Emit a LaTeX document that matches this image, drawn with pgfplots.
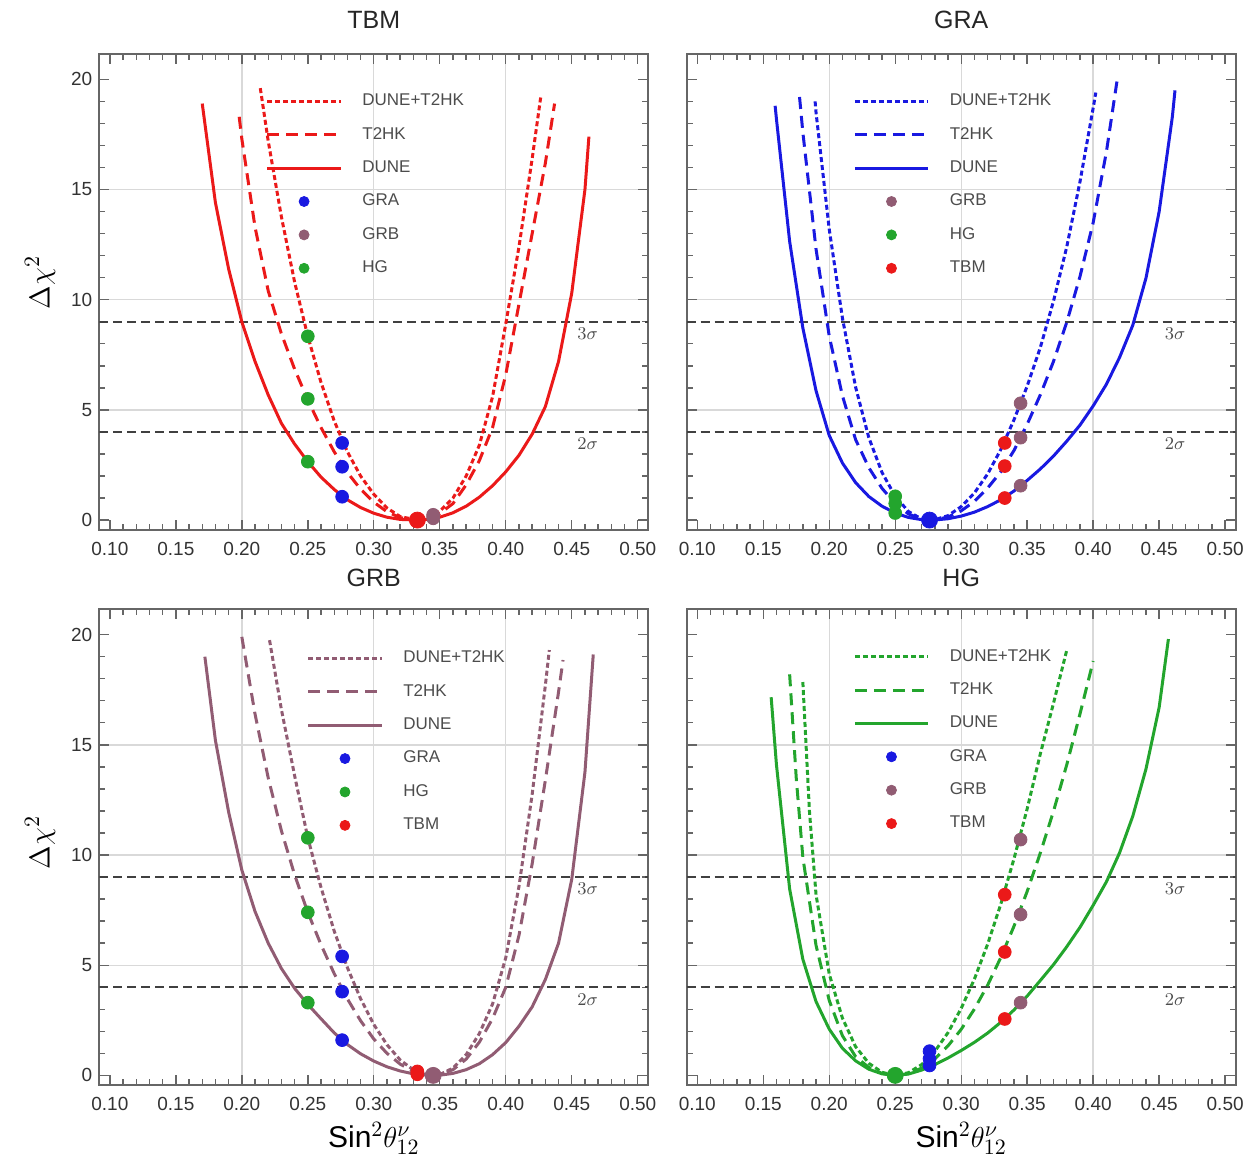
\documentclass[border=0pt]{standalone}
\usepackage{fontspec}
\setmainfont{Liberation Sans}
\usepackage{pgfplots}
\pgfplotsset{compat=1.18}

\definecolor{cTBM}{RGB}{235,25,25}
\definecolor{cGRA}{RGB}{25,25,225}
\definecolor{cGRB}{RGB}{145,92,115}
\definecolor{cHG}{RGB}{35,165,45}

\pgfplotsset{
  panel/.style={
    scale only axis, width=274.5pt, height=238pt,
    xmin=0.092, xmax=0.508, ymin=-0.45, ymax=21.15,
    xtick={0.10,0.15,0.20,0.25,0.30,0.35,0.40,0.45,0.50},
    minor x tick num=4,
    ytick={0,5,10,15,20}, minor y tick num=4,
    extra x ticks={0.2,0.3,0.4}, extra x tick labels={},
    extra y ticks={5,10,15}, extra y tick labels={},
    extra tick style={grid=major, major grid style={gray!30, line width=0.7pt}},
    tick align=inside,
    axis line style={black!60, line width=0.9pt},
    every tick/.style={black!60, line width=0.7pt},
    major tick length=5pt, minor tick length=3pt,
    /pgf/number format/assume math mode=true,
    x tick label style={/pgf/number format/fixed, /pgf/number format/fixed zerofill,
      /pgf/number format/precision=2, yshift=-2.5pt},
    tick label style={font=\fontsize{9.5}{10}\selectfont, text=black!80},
    every axis title/.style={font=\fontsize{12.5}{14}\selectfont, text=black!85,
      at={(axis description cs:0.5,1)}, anchor=base, yshift=12.75pt},
    every axis y label/.style={font=\fontsize{15}{18}\selectfont,
      at={(axis description cs:0,0.52)}, rotate=90, anchor=center, yshift=29.6pt},
    every axis x label/.style={font=\fontsize{15}{18}\selectfont,
      at={(axis description cs:0.5,0)}, anchor=center, yshift=-26.5pt},
    legend style={draw=none, fill=none, inner sep=0pt, column sep=10pt, row sep=0pt,
      font=\fontsize{8.5}{9}\selectfont, text=black!70,
      nodes={inner sep=0pt, minimum height=16.7pt}},
    legend cell align=left,
  },
  lineimg/.style={legend image code/.code={\draw[##1] (0pt,0pt) -- (36.7pt,0pt);}},
  markimg/.style={legend image code/.code={\draw[##1, mark size=2.5pt] plot coordinates {(18.3pt,0pt)};}},
  dune/.style={lineimg, line width=1.5pt},
  t2hk/.style={lineimg, line width=1.5pt, dash pattern=on 6pt off 3.5pt},
  comb/.style={lineimg, line width=1.5pt, dash pattern=on 2.5pt off 1.5pt},
  pts/.style={markimg, only marks, mark=*, mark size=3.2pt, color=#1},
  own/.style={only marks, mark=*, mark size=4pt, color=#1, forget plot},
  sigline/.style={black!75, line width=1.2pt, dash pattern=on 4.5pt off 2.5pt, forget plot},
}

\newcommand{\siglines}{%
  \addplot[sigline] coordinates {(0.092,9) (0.508,9)};
  \addplot[sigline] coordinates {(0.092,4) (0.508,4)};
  \node[font=\fontsize{9.5}{10}\selectfont, text=black!70] at (axis cs:0.462,8.45) {$3\sigma$};
  \node[font=\fontsize{9.5}{10}\selectfont, text=black!70] at (axis cs:0.462,3.45) {$2\sigma$};
}

\begin{document}
\begin{tikzpicture}
\useasboundingbox (-49.65pt,27pt) rectangle (574.85pt,-554pt);

% ---------------- TBM ----------------
\begin{axis}[panel, at={(0pt,0pt)}, anchor=north west, title={TBM}, ylabel={$\Delta\chi^2$},
  legend style={at={(axis cs:0.218,19.78)}, anchor=north west}]
\siglines
\addplot[comb, cTBM] coordinates {(0.214,19.6) (0.22,17.2) (0.23,13.76) (0.24,10.8) (0.25,8.34) (0.26,6.25) (0.27,4.5) (0.28,3.1) (0.29,2.0) (0.30,1.17) (0.31,0.55) (0.32,0.16) (0.333,0) (0.34,0.08) (0.35,0.4) (0.36,1.0) (0.37,2.0) (0.38,3.4) (0.39,5.6) (0.40,8.9) (0.41,12.4) (0.42,16.4) (0.4265,19.2)};
\addlegendentry{DUNE+T2HK}
\addplot[t2hk, cTBM] coordinates {(0.198,18.3) (0.20,17.3) (0.21,13.3) (0.22,10.4) (0.23,8.45) (0.24,6.85) (0.25,5.45) (0.26,4.2) (0.27,3.1) (0.28,2.16) (0.29,1.40) (0.30,0.81) (0.31,0.38) (0.32,0.11) (0.333,0) (0.34,0.06) (0.35,0.3) (0.36,0.75) (0.37,1.6) (0.38,2.7) (0.39,4.2) (0.40,6.6) (0.41,9.8) (0.42,13.0) (0.43,16.2) (0.437,18.9)};
\addlegendentry{T2HK}
\addplot[dune, cTBM] coordinates {(0.17,18.9) (0.18,14.4) (0.19,11.4) (0.20,9.0) (0.21,7.2) (0.22,5.68) (0.23,4.39) (0.24,3.45) (0.25,2.65) (0.26,1.95) (0.27,1.39) (0.28,0.92) (0.29,0.57) (0.30,0.31) (0.31,0.13) (0.32,0.03) (0.333,0) (0.34,0.03) (0.35,0.13) (0.36,0.33) (0.37,0.63) (0.38,1.04) (0.39,1.56) (0.40,2.19) (0.41,2.94) (0.42,3.9) (0.43,5.15) (0.44,7.2) (0.45,10.3) (0.46,15.0) (0.463,17.4)};
\addlegendentry{DUNE}
\addplot[pts=cGRA] coordinates {(0.276,1.06) (0.276,2.42) (0.276,3.5)};
\addlegendentry{GRA}
\addplot[pts=cGRB] coordinates {(0.345,0.08) (0.345,0.18) (0.345,0.24)};
\addlegendentry{GRB}
\addplot[pts=cHG] coordinates {(0.25,2.65) (0.25,5.5) (0.25,8.34)};
\addlegendentry{HG}
\addplot[own=cTBM] coordinates {(0.333,0)};
\end{axis}

% ---------------- GRA ----------------
\begin{axis}[panel, at={(293.7pt,0pt)}, anchor=north west, title={GRA}, yticklabels={},
  legend style={at={(axis cs:0.218,19.78)}, anchor=north west}]
\siglines
\addplot[comb, cGRA] coordinates {(0.1893,19.0) (0.19,18.5) (0.20,13.2) (0.21,9.17) (0.22,6.03) (0.23,3.74) (0.24,2.16) (0.25,1.08) (0.26,0.39) (0.27,0.05) (0.276,0) (0.28,0.02) (0.29,0.2) (0.30,0.61) (0.31,1.23) (0.32,2.09) (0.33,3.2) (0.34,4.55) (0.35,6.08) (0.36,7.84) (0.37,9.95) (0.38,12.4) (0.39,15.35) (0.40,18.7) (0.402,19.4)};
\addlegendentry{DUNE+T2HK}
\addplot[t2hk, cGRA] coordinates {(0.1775,19.2) (0.18,17.6) (0.19,12.3) (0.20,8.35) (0.21,5.64) (0.22,3.65) (0.23,2.38) (0.24,1.44) (0.25,0.75) (0.26,0.28) (0.27,0.04) (0.276,0) (0.28,0.01) (0.29,0.14) (0.30,0.42) (0.31,0.85) (0.32,1.45) (0.33,2.19) (0.34,3.16) (0.35,4.35) (0.36,5.69) (0.37,7.21) (0.38,8.98) (0.39,11.05) (0.40,13.5) (0.41,16.7) (0.418,19.9)};
\addlegendentry{T2HK}
\addplot[dune, cGRA] coordinates {(0.159,18.8) (0.16,18.2) (0.17,12.65) (0.18,8.72) (0.19,5.87) (0.20,3.84) (0.21,2.59) (0.22,1.70) (0.23,1.07) (0.24,0.63) (0.25,0.32) (0.26,0.12) (0.27,0.02) (0.276,0) (0.28,0.005) (0.29,0.06) (0.30,0.18) (0.31,0.36) (0.32,0.61) (0.33,0.92) (0.34,1.32) (0.35,1.8) (0.36,2.32) (0.37,2.91) (0.38,3.58) (0.39,4.31) (0.40,5.18) (0.41,6.16) (0.42,7.38) (0.43,8.84) (0.44,10.98) (0.45,14.0) (0.46,18.3) (0.462,19.5)};
\addlegendentry{DUNE}
\addplot[pts=cGRB] coordinates {(0.345,1.56) (0.345,3.74) (0.345,5.3)};
\addlegendentry{GRB}
\addplot[pts=cHG] coordinates {(0.25,0.32) (0.25,0.75) (0.25,1.08)};
\addlegendentry{HG}
\addplot[pts=cTBM] coordinates {(0.333,1.0) (0.333,2.45) (0.333,3.5)};
\addlegendentry{TBM}
\addplot[own=cGRA] coordinates {(0.276,0)};
\end{axis}

% ---------------- GRB ----------------
\begin{axis}[panel, at={(0pt,-277.65pt)}, anchor=north west, title={GRB}, ylabel={$\Delta\chi^2$},
  xlabel={Sin$^2\theta^{\nu}_{12}$}, every axis title/.append style={yshift=-1.45pt},
  every axis y label/.append style={at={(axis description cs:0,0.51)}},
  legend style={at={(axis cs:0.249,19.7)}, anchor=north west}]
\siglines
\addplot[comb, cGRB] coordinates {(0.221,19.75) (0.23,16.6) (0.24,13.6) (0.25,10.78) (0.26,8.53) (0.27,6.55) (0.28,4.89) (0.29,3.48) (0.30,2.31) (0.31,1.39) (0.32,0.70) (0.33,0.25) (0.34,0.03) (0.345,0) (0.35,0.04) (0.36,0.33) (0.37,0.94) (0.38,1.9) (0.39,3.24) (0.40,5.34) (0.41,8.57) (0.42,12.75) (0.43,17.7) (0.433,19.3)};
\addlegendentry{DUNE+T2HK}
\addplot[t2hk, cGRB] coordinates {(0.20,19.9) (0.21,16.4) (0.22,13.5) (0.23,11.1) (0.24,9.1) (0.25,7.4) (0.26,5.93) (0.27,4.62) (0.28,3.47) (0.29,2.48) (0.30,1.65) (0.31,1.0) (0.32,0.51) (0.33,0.18) (0.34,0.02) (0.345,0) (0.35,0.03) (0.36,0.26) (0.37,0.74) (0.38,1.51) (0.39,2.58) (0.40,4.0) (0.41,6.35) (0.42,9.6) (0.43,13.4) (0.44,17.4) (0.4434,18.85)};
\addlegendentry{T2HK}
\addplot[dune, cGRB] coordinates {(0.172,19.0) (0.18,15.2) (0.19,11.95) (0.20,9.32) (0.21,7.44) (0.22,6.0) (0.23,4.85) (0.24,3.95) (0.25,3.22) (0.26,2.57) (0.27,1.93) (0.28,1.40) (0.29,0.98) (0.30,0.65) (0.31,0.39) (0.32,0.2) (0.33,0.07) (0.34,0.01) (0.345,0) (0.35,0.01) (0.36,0.09) (0.37,0.26) (0.38,0.53) (0.39,0.94) (0.40,1.49) (0.41,2.23) (0.42,3.11) (0.43,4.35) (0.44,6.0) (0.45,8.9) (0.46,13.76) (0.4663,19.1)};
\addlegendentry{DUNE}
\addplot[pts=cGRA] coordinates {(0.276,1.6) (0.276,3.8) (0.276,5.4)};
\addlegendentry{GRA}
\addplot[pts=cHG] coordinates {(0.25,3.3) (0.25,7.4) (0.25,10.78)};
\addlegendentry{HG}
\addplot[pts=cTBM] coordinates {(0.333,0.05) (0.333,0.13) (0.333,0.18)};
\addlegendentry{TBM}
\addplot[own=cGRB] coordinates {(0.345,0)};
\end{axis}

% ---------------- HG ----------------
\begin{axis}[panel, at={(293.7pt,-277.65pt)}, anchor=north west, title={HG}, yticklabels={},
  xlabel={Sin$^2\theta^{\nu}_{12}$}, every axis title/.append style={yshift=-1.45pt},
  legend style={at={(axis cs:0.218,19.78)}, anchor=north west}]
\siglines
\addplot[comb, cHG] coordinates {(0.18,17.85) (0.185,12.0) (0.19,8.2) (0.20,4.6) (0.21,2.6) (0.22,1.3) (0.23,0.55) (0.24,0.14) (0.25,0) (0.26,0.12) (0.27,0.49) (0.28,1.09) (0.29,1.94) (0.30,3.04) (0.31,4.37) (0.32,5.95) (0.33,7.77) (0.34,9.83) (0.35,12.1) (0.36,14.6) (0.37,16.9) (0.38,19.3)};
\addlegendentry{DUNE+T2HK}
\addplot[t2hk, cHG] coordinates {(0.17,18.2) (0.175,13.5) (0.18,9.9) (0.19,5.9) (0.20,3.4) (0.21,1.8) (0.22,0.85) (0.23,0.36) (0.24,0.09) (0.25,0) (0.26,0.08) (0.27,0.33) (0.28,0.75) (0.29,1.34) (0.30,2.09) (0.31,3.01) (0.32,4.09) (0.33,5.35) (0.34,6.77) (0.35,8.35) (0.36,10.1) (0.37,12.0) (0.38,14.1) (0.39,16.4) (0.40,18.8)};
\addlegendentry{T2HK}
\addplot[dune, cHG] coordinates {(0.156,17.16) (0.16,14.1) (0.17,8.46) (0.18,5.27) (0.19,3.35) (0.20,2.1) (0.21,1.23) (0.22,0.66) (0.23,0.28) (0.24,0.07) (0.25,0) (0.26,0.06) (0.27,0.24) (0.28,0.49) (0.29,0.79) (0.30,1.13) (0.31,1.5) (0.32,1.92) (0.33,2.41) (0.34,2.97) (0.35,3.6) (0.36,4.31) (0.37,5.03) (0.38,5.84) (0.39,6.72) (0.40,7.72) (0.41,8.78) (0.42,10.1) (0.43,11.76) (0.44,13.9) (0.45,16.7) (0.457,19.8)};
\addlegendentry{DUNE}
\addplot[pts=cGRA] coordinates {(0.276,0.45) (0.276,0.75) (0.276,1.1)};
\addlegendentry{GRA}
\addplot[pts=cGRB] coordinates {(0.345,3.3) (0.345,7.3) (0.345,10.7)};
\addlegendentry{GRB}
\addplot[pts=cTBM] coordinates {(0.333,2.56) (0.333,5.6) (0.333,8.2)};
\addlegendentry{TBM}
\addplot[own=cHG] coordinates {(0.25,0)};
\end{axis}
\end{tikzpicture}
\end{document}
